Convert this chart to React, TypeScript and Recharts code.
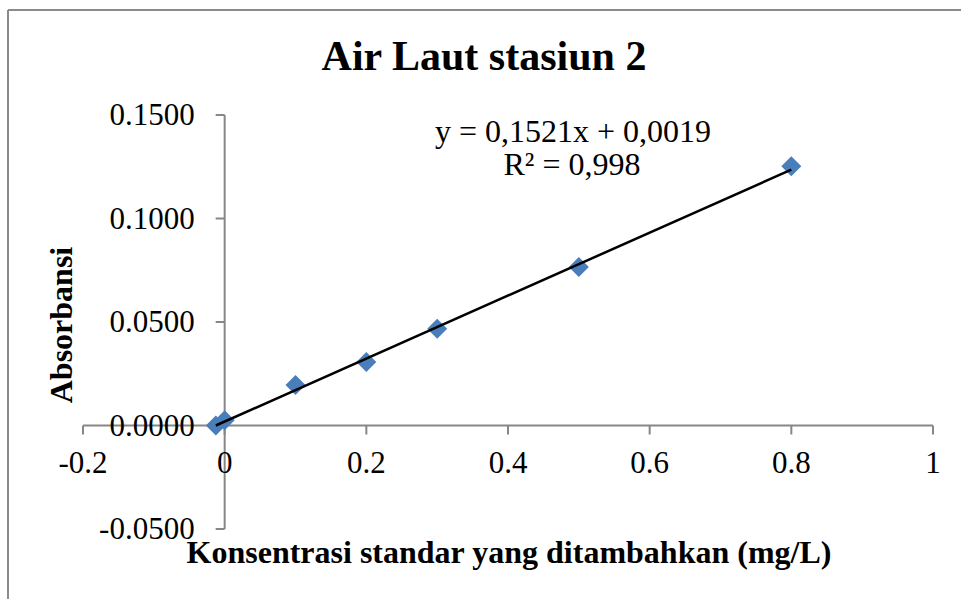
import React from "react";
import {
  ScatterChart,
  Scatter,
  XAxis,
  YAxis,
  ReferenceLine,
  ReferenceDot,
} from "recharts";

const konsentrasi = [-0.0125, 0, 0.1, 0.2, 0.3, 0.5, 0.8];
const absorbansi = [0, 0.0025, 0.0196, 0.0307, 0.0467, 0.0766, 0.1253];

const xTicks = [-0.2, 0, 0.2, 0.4, 0.6, 0.8, 1];
const yTicks = [-0.05, 0, 0.05, 0.1, 0.15];

const slope = 0.1521;
const intercept = 0.0019;
const equationText = "y = 0,1521x + 0,0019";
const r2Text = "R² = 0,998";

const title = "Air Laut stasiun 2";
const xTitle = "Konsentrasi standar yang ditambahkan (mg/L)";
const yTitle = "Absorbansi";

const W = 961;
const H = 599;
const FONT = '"Liberation Serif", "Times New Roman", serif';
const AXIS = "#878787";
const BLUE = "#4a7ebb";

const points = konsentrasi.map((x, i) => ({ x, y: absorbansi[i] }));
const xFirst = konsentrasi[0];
const xLast = konsentrasi[konsentrasi.length - 1];
const trend = [
  { x: xFirst, y: slope * xFirst + intercept },
  { x: xLast, y: slope * xLast + intercept },
];

const Diamond = (props: any) => {
  const { cx, cy } = props;
  const r = 10;
  return (
    <polygon
      points={`${cx},${cy - r} ${cx + r},${cy} ${cx},${cy + r} ${cx - r},${cy}`}
      fill={BLUE}
    />
  );
};

const XTick = (label: string) => (props: any) => {
  const { cx, cy } = props;
  return (
    <g>
      <line x1={cx} y1={cy} x2={cx} y2={cy + 9} stroke={AXIS} strokeWidth={2} />
      <text x={cx} y={cy + 47} textAnchor="middle" fontFamily={FONT} fontSize={31} fill="#000">
        {label}
      </text>
    </g>
  );
};

const YTick = (label: string) => (props: any) => {
  const { cx, cy } = props;
  return (
    <g>
      <line x1={cx - 9} y1={cy} x2={cx} y2={cy} stroke={AXIS} strokeWidth={2} />
      <text x={cx - 30} y={cy + 10} textAnchor="end" fontFamily={FONT} fontSize={31} fill="#000">
        {label}
      </text>
    </g>
  );
};

export default function App() {
  return (
    <div style={{ position: "absolute", left: 0, top: 0, width: W, height: H, overflow: "hidden", background: "#fff" }}>
      <ScatterChart width={W} height={H} margin={{ top: 115, right: 28, bottom: 70, left: 83 }}>
        <XAxis type="number" dataKey="x" domain={[-0.2, 1]} allowDataOverflow hide />
        <YAxis type="number" dataKey="y" domain={[-0.05, 0.15]} allowDataOverflow hide />
        <ReferenceLine y={0} stroke={AXIS} strokeWidth={2} />
        <ReferenceLine x={0} stroke={AXIS} strokeWidth={2} />
        {xTicks.map((t) => (
          <ReferenceDot key={"x" + t} x={t} y={0} r={0} ifOverflow="visible" shape={XTick(String(t))} />
        ))}
        {yTicks.map((t) => (
          <ReferenceDot key={"y" + t} x={0} y={t} r={0} ifOverflow="visible" shape={YTick(t.toFixed(4))} />
        ))}
        <Scatter data={points} shape={Diamond} isAnimationActive={false} />
        <Scatter
          data={trend}
          line={{ stroke: "#000", strokeWidth: 2.5 }}
          shape={() => <g />}
          isAnimationActive={false}
        />
      </ScatterChart>
      <svg width={W} height={H} style={{ position: "absolute", left: 0, top: 0, pointerEvents: "none" }}>
        <line x1={8} y1={10} x2={W} y2={10} stroke="#8a8a8a" strokeWidth={2} />
        <line x1={8} y1={10} x2={8} y2={H} stroke="#8a8a8a" strokeWidth={2} />
        <text x={484} y={70} textAnchor="middle" fontFamily={FONT} fontWeight="bold" fontSize={42}>
          {title}
        </text>
        <text x={573} y={142} textAnchor="middle" fontFamily={FONT} fontSize={32}>
          {equationText}
        </text>
        <text x={572} y={175} textAnchor="middle" fontFamily={FONT} fontSize={32}>
          {r2Text}
        </text>
        <text x={509} y={563} textAnchor="middle" fontFamily={FONT} fontWeight="bold" fontSize={32}>
          {xTitle}
        </text>
        <text
          x={72}
          y={325}
          transform="rotate(-90, 72, 325)"
          textAnchor="middle"
          fontFamily={FONT}
          fontWeight="bold"
          fontSize={32}
        >
          {yTitle}
        </text>
      </svg>
    </div>
  );
}
